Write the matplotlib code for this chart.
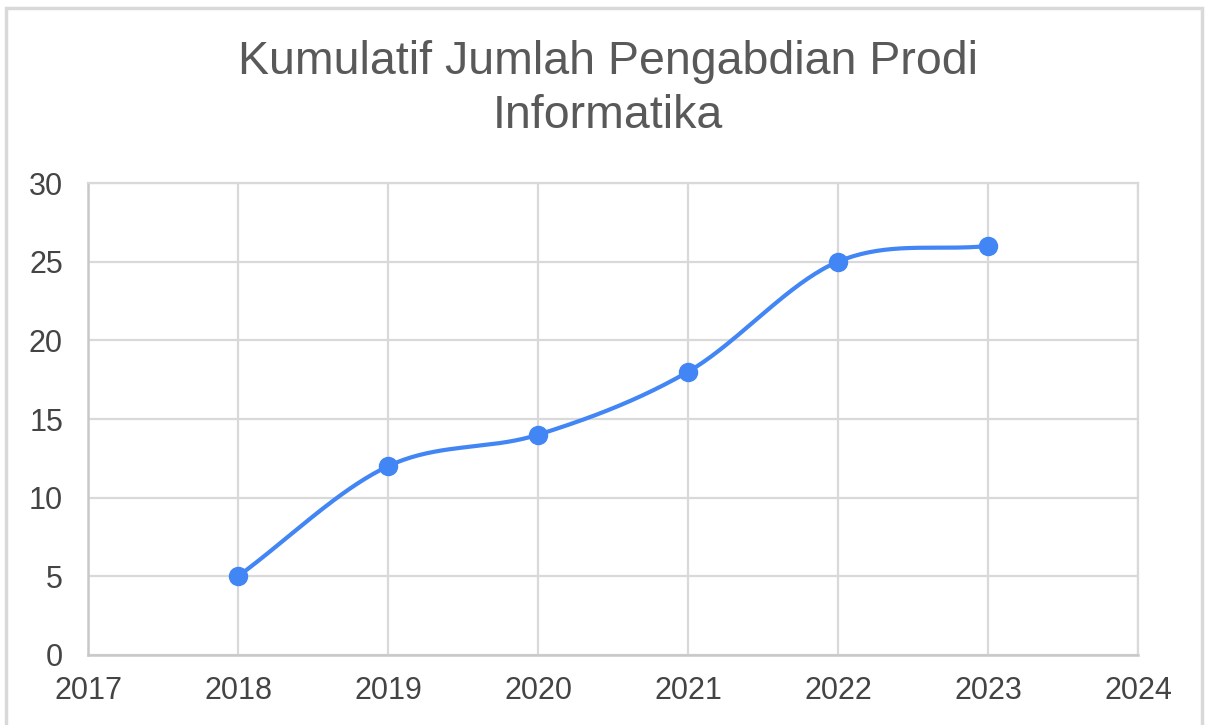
import numpy as np
import matplotlib.pyplot as plt
from matplotlib.patches import Rectangle

years = [2018, 2019, 2020, 2021, 2022, 2023]
jumlah = [5, 12, 14, 18, 25, 26]
title = 'Kumulatif Jumlah Pengabdian Prodi\nInformatika'

plt.rcParams['font.family'] = ['Liberation Sans', 'DejaVu Sans']


def smooth(x, y, n=40):
    # Catmull-Rom style cubic Hermite curve through the points
    x = np.asarray(x, float)
    y = np.asarray(y, float)
    m = np.zeros_like(y)
    m[1:-1] = (y[2:] - y[:-2]) / (x[2:] - x[:-2])
    m[0] = (y[1] - y[0]) / (x[1] - x[0])
    m[-1] = (y[-1] - y[-2]) / (x[-1] - x[-2])
    xs, ys = [], []
    for i in range(len(x) - 1):
        h = x[i + 1] - x[i]
        t = np.linspace(0, 1, n)
        h00 = 2 * t**3 - 3 * t**2 + 1
        h10 = t**3 - 2 * t**2 + t
        h01 = -2 * t**3 + 3 * t**2
        h11 = t**3 - t**2
        xs.append(x[i] + t * h)
        ys.append(h00 * y[i] + h10 * h * m[i] + h01 * y[i + 1] + h11 * h * m[i + 1])
    return np.concatenate(xs), np.concatenate(ys)


fig = plt.figure(figsize=(12.07, 7.25), dpi=100)
ax = fig.add_axes([88 / 1207, 1 - 655 / 725, 1050 / 1207, 472 / 725])

grid_c = '#d9d9d9'
ax.set_xlim(2017, 2024)
ax.set_ylim(0, 30)
ax.set_xticks(range(2017, 2025))
ax.set_yticks(range(0, 31, 5))
ax.grid(True, color=grid_c, linewidth=1.6)
ax.set_axisbelow(True)
for side in ['top', 'right']:
    ax.spines[side].set_color(grid_c)
    ax.spines[side].set_linewidth(1.6)
for side in ['left', 'bottom']:
    ax.spines[side].set_color('#c8c8c8')
    ax.spines[side].set_linewidth(1.8)
ax.tick_params(length=0, labelsize=22, labelcolor='#444444')
ax.tick_params(axis='y', pad=18)
ax.tick_params(axis='x', pad=15)

sx, sy = smooth(years, jumlah)
ax.plot(sx, sy, color='#4285f4', linewidth=3, solid_capstyle='round', clip_on=False)
ax.plot(years, jumlah, 'o', color='#4285f4', markersize=13, clip_on=False)

fig.text(608 / 1207, 1 - 89 / 725, title, ha='center', va='center',
         fontsize=33.5, color='#595959', linespacing=1.3)

fig.patches.append(Rectangle((6 / 1207, -0.05), 1196 / 1207, 1 - 8 / 725 + 0.05,
                             transform=fig.transFigure, fill=False,
                             edgecolor='#d9d9d9', linewidth=2.5))

fig.savefig('out.png', dpi=100)
